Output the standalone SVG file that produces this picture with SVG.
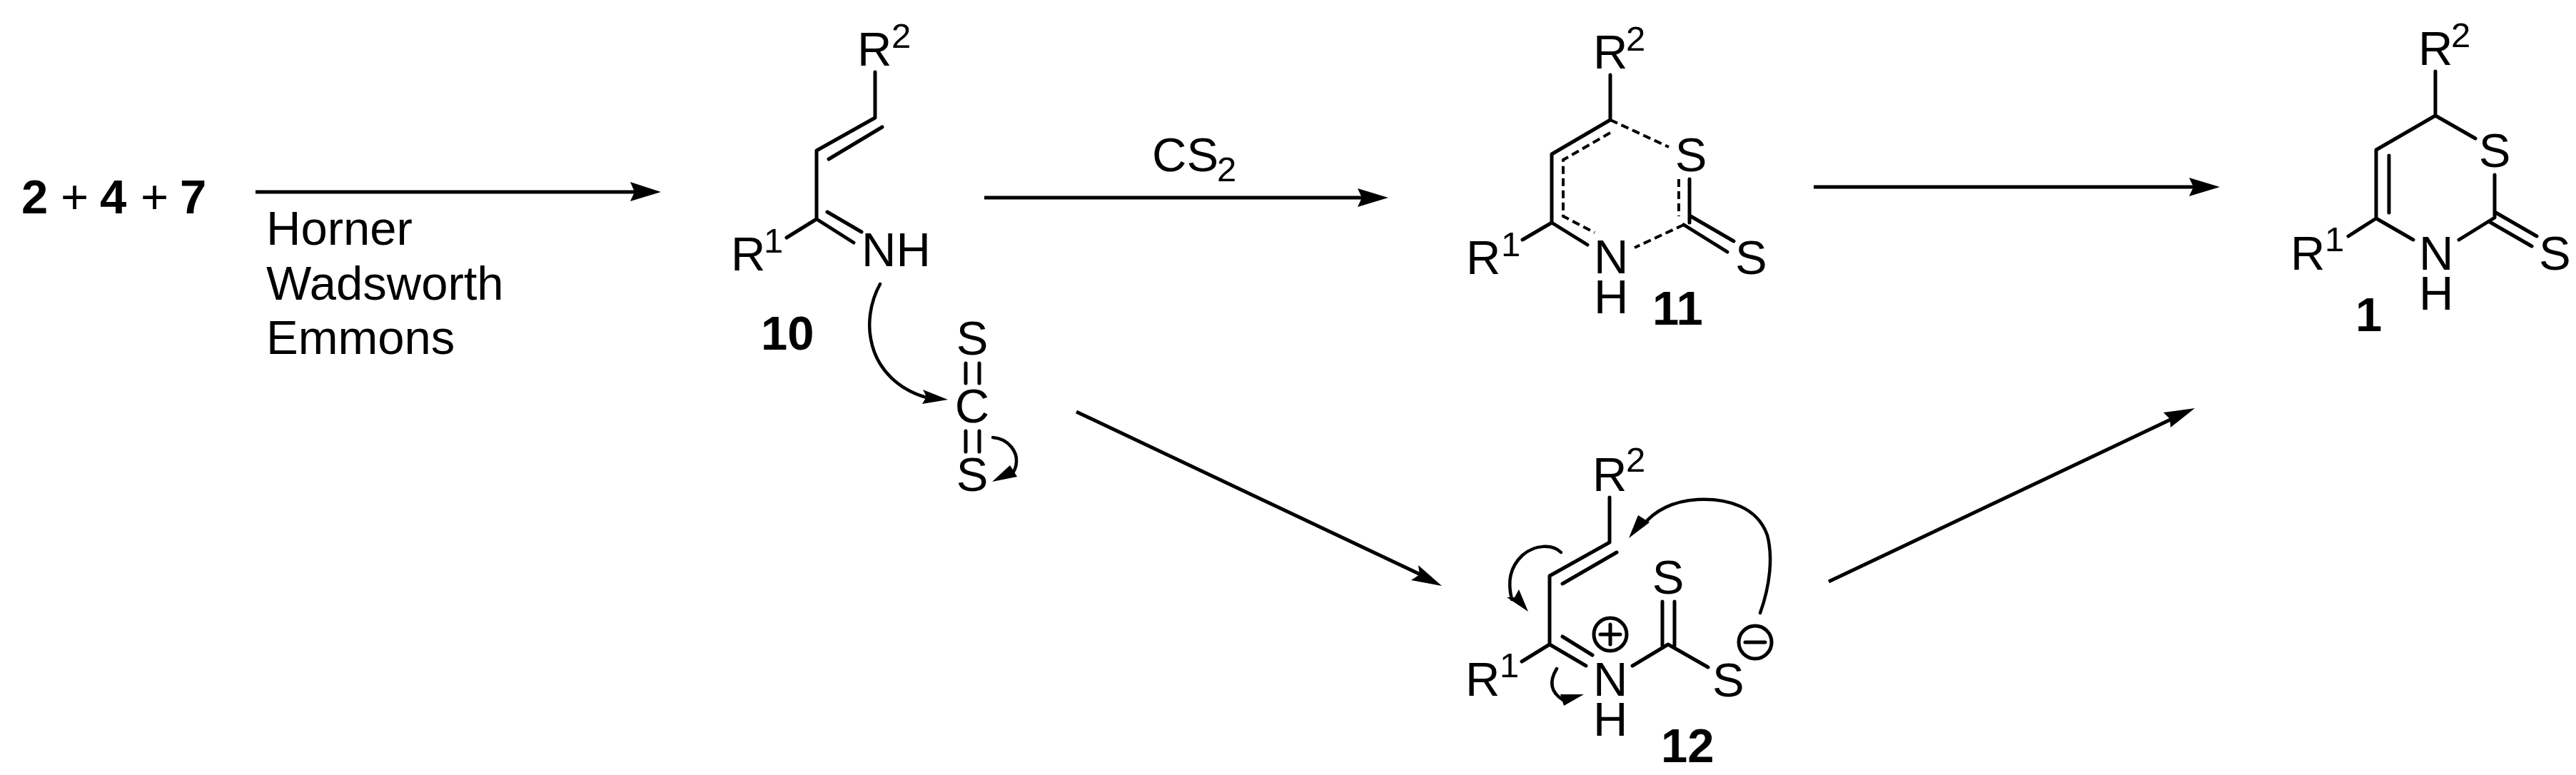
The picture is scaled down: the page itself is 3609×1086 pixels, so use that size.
<svg xmlns="http://www.w3.org/2000/svg" width="3609" height="1086" viewBox="0 0 3609 1086">
<style>
text{font-family:"Liberation Sans",Arial,sans-serif;font-size:67px;fill:#000}
.b{font-weight:700}
.s{font-size:49px}
.m{text-anchor:middle}
.bond{fill:none;stroke:#000;stroke-width:5;stroke-linecap:round;stroke-linejoin:round}
.dash{fill:none;stroke:#000;stroke-width:4;stroke-dasharray:11 6}
.rx{stroke:#000;stroke-width:5;fill:none}
.curve{fill:none;stroke:#000;stroke-width:4.5;stroke-linecap:round}
.head{fill:#000;stroke:none}
</style>
<rect width="3609" height="1086" fill="#fff"/>
<g id="connectors">
<path class="rx" d="M358 269H895"/><path class="head" d="M883 255L926 269L883 282L889 269Z"/>
<path class="rx" d="M1379 277H1915"/><path class="head" d="M1902 264L1945 277L1902 290L1908 277Z"/>
<path class="rx" d="M2541 262H3080"/><path class="head" d="M3067 249L3110 262L3067 275L3073 262Z"/>
<path class="rx" d="M1508 577L1990 805"/><path class="head" d="M1987 792L2020 821L1977 813L1989 805Z"/>
<path class="rx" d="M2562 815L3045 586"/><path class="head" d="M3031 578L3075 572L3041 599L3040 587Z"/>
<path class="curve" d="M1233 398C1218 425 1216 455 1220 475C1228 520 1262 547 1298 557"/><path class="head" d="M1293 546L1328 560L1292 566L1298 556Z"/>
<path class="curve" d="M1391 613C1415 615 1425 635 1424 647C1424 655 1420 662 1417 665"/><path class="head" d="M1415 652L1425 668L1390 675Z"/>
<path class="curve" d="M2466 859C2480 820 2484 780 2476 750C2462 710 2420 698 2378 700C2345 702 2318 715 2302 736"/><path class="head" d="M2295 722L2311 732L2282 754Z"/>
<path class="curve" d="M2187 774C2175 762 2150 763 2133 778C2115 795 2112 815 2118 840"/><path class="head" d="M2128 826L2141 857L2111 837L2122 837Z"/>
<path class="curve" d="M2181 937C2170 955 2172 970 2190 981"/><path class="head" d="M2186 973L2219 973L2191 989Z"/>
</g>
<g id="reagents">
<text class="b" x="30" y="299">2</text><text x="85" y="299">+</text><text class="b" x="140" y="299">4</text><text x="197" y="299">+</text><text class="b" x="252" y="299">7</text>
</g>
<g id="hwe-label">
<text x="373" y="343">Horner</text><text x="373" y="420">Wadsworth</text><text x="373" y="496">Emmons</text>
</g>
<g id="cs2-label"><text x="1614" y="240">CS</text><text class="s" x="1705" y="254">2</text></g>
<g id="compound-10">
<path class="bond" d="M1226 101V165L1144 211V307L1102 333M1144 307L1196 340M1236 178L1161 223M1159 297L1207 325"/>
<text x="1201" y="92">R</text><text class="s" x="1249" y="67">2</text>
<text x="1207" y="373">NH</text>
<text x="1024" y="379">R</text><text class="s" x="1070" y="354">1</text>
<text class="b" x="1066" y="490">10</text>
</g>
<g id="cs2">
<path class="bond" d="M1353 509V537M1372 509V537M1353 604V633M1372 604V633"/>
<text class="m" x="1362" y="497">S</text><text class="m" x="1362" y="592">C</text><text class="m" x="1362" y="688">S</text>
</g>
<g id="compound-11">
<path class="bond" d="M2256 105V168L2174 216V312L2224 343M2174 312L2133 336M2367 251V312M2367 302L2429 338M2359 315L2420 353"/>
<path class="dash" d="M2256 186L2190 224V303L2234 326M2256 168L2338 206M2352 251V303M2359 315L2290 347"/>
<text x="2232" y="96">R</text><text class="s" x="2278" y="71">2</text>
<text class="m" x="2369" y="240">S</text><text x="2431" y="384">S</text>
<text x="2233" y="383">N</text><text x="2233" y="439">H</text>
<text x="2054" y="384">R</text><text class="s" x="2103" y="359">1</text>
<text class="b" x="2315" y="455">11</text>
</g>
<g id="compound-1">
<path class="bond" d="M3412 100V162L3329 210V306L3381 336M3329 306L3290 331M3347 218V298M3412 162L3468 194M3495 245V305L3445 336M3495 297L3554 331M3488 311L3547 345"/>
<text x="3388" y="91">R</text><text class="s" x="3434" y="66">2</text>
<text class="m" x="3495" y="234">S</text><text x="3557" y="378">S</text>
<text x="3389" y="378">N</text><text x="3389" y="434">H</text>
<text x="3209" y="378">R</text><text class="s" x="3257" y="352">1</text>
<text class="b" x="3300" y="464">1</text>
</g>
<g id="compound-12">
<path class="bond" d="M2255 697V760L2171 807V903L2132 927M2171 903L2222 933M2265 774L2189 818M2189 892L2231 918M2287 933L2337 903L2393 935M2329 843V905M2346 843V905"/>
<text x="2231" y="688">R</text><text class="s" x="2278" y="661">2</text>
<text x="2053" y="975">R</text><text class="s" x="2101" y="949">1</text>
<text x="2232" y="975">N</text><text x="2232" y="1031">H</text>
<text class="m" x="2337" y="832">S</text><text x="2399" y="976">S</text>
<text class="b" x="2327" y="1068">12</text>
<circle class="bond" cx="2256" cy="889" r="23"/><path class="bond" d="M2242 889H2270M2256 875V903"/>
<circle class="bond" cx="2459" cy="900" r="23"/><path class="bond" d="M2445 900H2473"/>
</g>
</svg>
